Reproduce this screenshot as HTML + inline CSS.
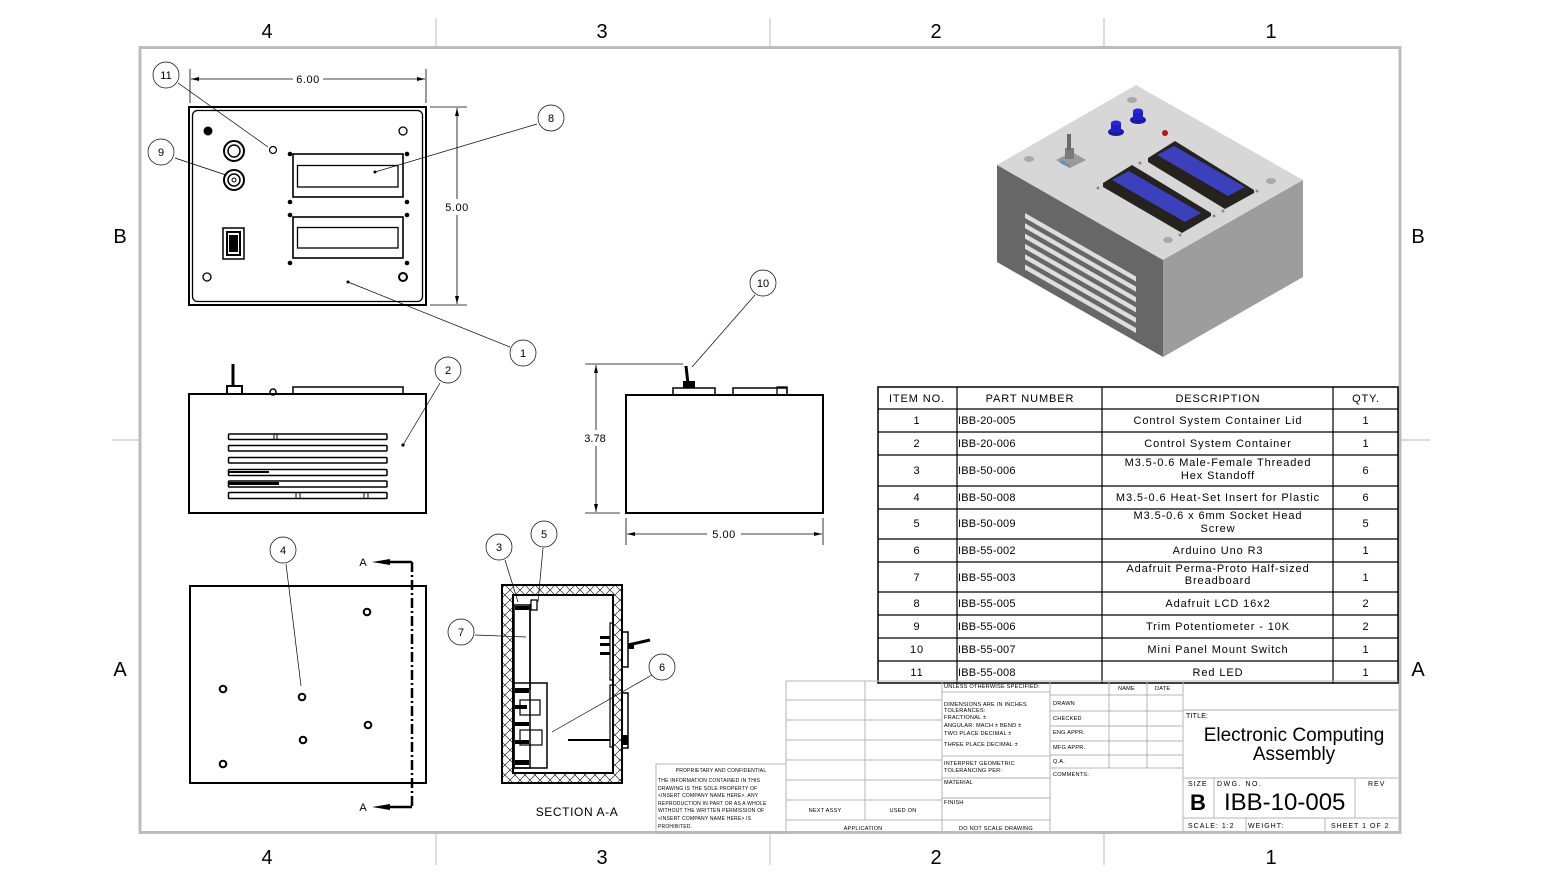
<!DOCTYPE html>
<html><head><meta charset="utf-8"><style>
html,body{margin:0;padding:0;background:#fff;width:1541px;height:883px;overflow:hidden}
svg{display:block}
text{font-family:"Liberation Sans",sans-serif;fill:#000}
.bom{font-size:11px;letter-spacing:0.9px}
.tb{font-size:5.6px;letter-spacing:0.2px}
.bl{font-size:11px}
</style></head><body>
<svg width="1541" height="883" viewBox="0 0 1541 883" xmlns="http://www.w3.org/2000/svg">
<defs>
<pattern id="hatch" width="10" height="10" patternUnits="userSpaceOnUse">
<path d="M0,0 L10,10 M10,0 L0,10" stroke="#000" stroke-width="0.6"/>
</pattern>
</defs>
<rect width="1541" height="883" fill="#fff"/>

<!-- frame -->
<rect x="140" y="47.5" width="1260" height="785" fill="none" stroke="#bcbcbc" stroke-width="3"/>
<g stroke="#c8c8c8" stroke-width="1.2">
<line x1="436" y1="18" x2="436" y2="46"/><line x1="770" y1="18" x2="770" y2="46"/><line x1="1104" y1="18" x2="1104" y2="46"/>
<line x1="436" y1="834" x2="436" y2="865"/><line x1="770" y1="834" x2="770" y2="865"/><line x1="1104" y1="834" x2="1104" y2="865"/>
<line x1="112" y1="440" x2="139" y2="440"/><line x1="1401" y1="440" x2="1430" y2="440"/>
</g>
<g font-size="20" text-anchor="middle">
<text x="267" y="38">4</text><text x="602" y="38">3</text><text x="936" y="38">2</text><text x="1271" y="38">1</text>
<text x="267" y="864">4</text><text x="602" y="864">3</text><text x="936" y="864">2</text><text x="1271" y="864">1</text>
<text x="120" y="243">B</text><text x="1418" y="243">B</text>
<text x="120" y="676">A</text><text x="1418" y="676">A</text>
</g>

<!-- TOP VIEW -->
<g fill="none" stroke="#000">
<rect x="189" y="107" width="237" height="198" stroke-width="2"/>
<rect x="192.5" y="110.5" width="230" height="191" rx="5" stroke-width="1.3"/>
<line x1="190" y1="69" x2="190" y2="103" stroke-width="0.8"/>
<line x1="426" y1="69" x2="426" y2="103" stroke-width="0.8"/>
<line x1="191" y1="79" x2="293" y2="79" stroke-width="0.8"/>
<line x1="323" y1="79" x2="425" y2="79" stroke-width="0.8"/>
<line x1="430" y1="107" x2="467" y2="107" stroke-width="0.8"/>
<line x1="430" y1="305" x2="467" y2="305" stroke-width="0.8"/>
<line x1="457" y1="108" x2="457" y2="199" stroke-width="0.8"/>
<line x1="457" y1="215" x2="457" y2="304" stroke-width="0.8"/>
<circle cx="208" cy="131" r="3.5" stroke-width="2"/>
<circle cx="403" cy="131" r="4" stroke-width="1.3"/>
<circle cx="207" cy="277" r="4" stroke-width="1.3"/>
<circle cx="403" cy="277" r="4" stroke-width="2"/>
<circle cx="234" cy="151" r="10" stroke-width="2"/><circle cx="234" cy="151" r="6" stroke-width="1.5"/>
<circle cx="234" cy="180" r="10" stroke-width="2"/><circle cx="234" cy="180" r="6" stroke-width="1.5"/><circle cx="234" cy="180" r="2" stroke-width="1"/>
<circle cx="273" cy="150" r="3.5" stroke-width="1.2"/>
<rect x="223" y="228" width="21" height="31" stroke-width="1.5"/>
<rect x="227" y="232" width="13" height="23" stroke-width="2"/>
<rect x="293" y="154" width="110" height="43" stroke-width="1.6"/>
<rect x="297.5" y="165.5" width="100.5" height="21.5" stroke-width="1.3"/>
<rect x="293" y="217" width="110" height="41" stroke-width="1.6"/>
<rect x="297.5" y="227.5" width="100.5" height="20.5" stroke-width="1.3"/>
</g>
<g fill="#000">
<polygon points="191,79 199,77 199,81"/><polygon points="425,79 417,77 417,81"/>
<polygon points="457,108 455,116 459,116"/><polygon points="457,304 455,296 459,296"/>
<circle cx="208" cy="131" r="3"/>
<rect x="229" y="235" width="9" height="17"/>
<circle cx="290" cy="154" r="2.3"/><circle cx="407" cy="154" r="2.3"/>
<circle cx="290" cy="202" r="2.3"/><circle cx="407" cy="202" r="2.3"/>
<circle cx="290" cy="215" r="2.3"/><circle cx="407" cy="215" r="2.3"/>
<circle cx="290" cy="263" r="2.3"/><circle cx="407" cy="263" r="2.3"/>
<circle cx="375" cy="172" r="1.5"/><circle cx="348" cy="282" r="1.5"/>
</g>
<text x="308" y="83" font-size="11" text-anchor="middle" letter-spacing="0.5">6.00</text>
<text x="457" y="211" font-size="11" text-anchor="middle" letter-spacing="0.5">5.00</text>
<g stroke="#000" stroke-width="0.7" fill="none">
<line x1="178" y1="83" x2="268" y2="147"/>
<line x1="537" y1="124" x2="375" y2="172"/>
<line x1="175" y1="158" x2="226" y2="175"/>
<line x1="510" y1="347" x2="348" y2="282"/>
<circle cx="166" cy="75" r="13" fill="#fff"/>
<circle cx="551" cy="118" r="13" fill="#fff"/>
<circle cx="161" cy="152" r="13" fill="#fff"/>
<circle cx="523" cy="353" r="13" fill="#fff"/>
</g>
<g class="bl" text-anchor="middle">
<text x="166" y="79">11</text><text x="551" y="122">8</text><text x="161" y="156">9</text><text x="523" y="357">1</text>
</g>

<!-- SIDE VIEW -->
<g fill="none" stroke="#000">
<rect x="189" y="394" width="237" height="119" stroke-width="2"/>
<rect x="293" y="387" width="110" height="7" stroke-width="1.5"/>
<rect x="227" y="386" width="15" height="8" stroke-width="2"/>
<line x1="233" y1="364" x2="233" y2="386" stroke-width="3"/>
<circle cx="273" cy="392" r="3" stroke-width="1.5"/>
<rect x="228.5" y="434" width="158.5" height="5.5" rx="1" stroke-width="1.5"/>
<rect x="228.5" y="445.5" width="158.5" height="5.5" rx="1" stroke-width="1.5"/>
<rect x="228.5" y="457.5" width="158.5" height="5.5" rx="1" stroke-width="1.5"/>
<rect x="228.5" y="469.5" width="158.5" height="6" rx="1" stroke-width="1.5"/>
<rect x="228.5" y="481" width="158.5" height="6" rx="1" stroke-width="1.5"/>
<rect x="228.5" y="492.5" width="158.5" height="6" rx="1" stroke-width="1.5"/>
<line x1="274" y1="434" x2="274" y2="440" stroke-width="1"/><line x1="277" y1="434" x2="277" y2="440" stroke-width="1"/>
<line x1="296" y1="492" x2="296" y2="499" stroke-width="1"/><line x1="300" y1="492" x2="300" y2="499" stroke-width="1"/>
<line x1="364" y1="492" x2="364" y2="499" stroke-width="1"/><line x1="368" y1="492" x2="368" y2="499" stroke-width="1"/>
</g>
<rect x="229" y="482" width="50" height="3" fill="#000"/>
<rect x="229" y="471" width="40" height="2" fill="#000"/>
<g stroke="#000" stroke-width="0.7" fill="none">
<line x1="440" y1="383" x2="403" y2="445"/>
<circle cx="448" cy="370" r="13" fill="#fff"/>
</g>
<circle cx="403" cy="445" r="1.6"/>
<text x="448" y="374" class="bl" text-anchor="middle">2</text>

<!-- BOTTOM VIEW -->
<g fill="none" stroke="#000">
<rect x="190" y="586" width="236" height="197" stroke-width="2"/>
<circle cx="367" cy="612" r="3.3" stroke-width="2"/>
<circle cx="223" cy="689" r="3.3" stroke-width="2"/>
<circle cx="302" cy="697" r="3.3" stroke-width="2"/>
<circle cx="368" cy="725" r="3.3" stroke-width="2"/>
<circle cx="303" cy="740" r="3.3" stroke-width="2"/>
<circle cx="223" cy="764" r="3.3" stroke-width="2"/>
<line x1="412" y1="562" x2="412" y2="807" stroke-width="2.5" stroke-dasharray="10,3,2,3"/>
<polyline points="386,562 412,562" stroke-width="2.5"/>
<polyline points="386,807 412,807" stroke-width="2.5"/>
<line x1="286" y1="564" x2="301" y2="686" stroke-width="0.7"/>
<circle cx="283" cy="550" r="13" fill="#fff" stroke-width="0.7"/>
</g>
<polygon points="372,562 390,559 390,565" fill="#000"/>
<polygon points="372,807 390,804 390,810" fill="#000"/>
<text x="363" y="566" font-size="11" text-anchor="middle">A</text>
<text x="363" y="811" font-size="11" text-anchor="middle">A</text>
<text x="283" y="554" class="bl" text-anchor="middle">4</text>

<!-- FRONT VIEW -->
<g fill="none" stroke="#000">
<rect x="626" y="395" width="197" height="118" stroke-width="2"/>
<rect x="673" y="388" width="42" height="7" stroke-width="1.5"/>
<rect x="733" y="388" width="54" height="7" stroke-width="1.5"/>
<rect x="777" y="387" width="10" height="8" stroke-width="1.3"/>
<line x1="686" y1="366" x2="688" y2="384" stroke-width="3"/>
<line x1="585" y1="364" x2="683" y2="364" stroke-width="0.8"/>
<line x1="585" y1="513" x2="620" y2="513" stroke-width="0.8"/>
<line x1="596" y1="365" x2="596" y2="430" stroke-width="0.8"/>
<line x1="596" y1="446" x2="596" y2="512" stroke-width="0.8"/>
<line x1="626" y1="518" x2="626" y2="545" stroke-width="0.8"/>
<line x1="823" y1="518" x2="823" y2="545" stroke-width="0.8"/>
<line x1="627" y1="534" x2="707" y2="534" stroke-width="0.8"/>
<line x1="741" y1="534" x2="822" y2="534" stroke-width="0.8"/>
<line x1="755" y1="295" x2="692" y2="367" stroke-width="0.7"/>
<circle cx="763" cy="283" r="13" fill="#fff" stroke-width="0.7"/>
</g>
<rect x="683" y="381" width="12" height="7" fill="#000"/>
<g fill="#000">
<polygon points="596,365 594,373 598,373"/><polygon points="596,512 594,504 598,504"/>
<polygon points="627,534 635,532 635,536"/><polygon points="822,534 814,532 814,536"/>
</g>
<text x="595" y="442" font-size="11" text-anchor="middle">3.78</text>
<text x="724" y="538" font-size="11" text-anchor="middle" letter-spacing="0.5">5.00</text>
<text x="763" y="287" class="bl" text-anchor="middle">10</text>

<!-- SECTION A-A -->
<path d="M502,585 H622 V783 H502 Z M513,595 V773 H613 V595 Z" fill="url(#hatch)" fill-rule="evenodd" stroke="#000" stroke-width="2"/>
<g fill="none" stroke="#000">
<rect x="514" y="605" width="16" height="163" stroke-width="1.5"/>
<line x1="530" y1="604" x2="530" y2="690" stroke-width="1.5"/>
<rect x="531" y="600" width="6" height="10" stroke-width="1.3"/>
<rect x="514" y="683" width="33" height="85" stroke-width="1.5"/>
<rect x="520" y="700" width="20" height="15" stroke-width="1.2"/>
<rect x="520" y="730" width="22" height="15" stroke-width="1.2"/>
<rect x="610" y="623" width="3" height="57" stroke-width="1.2"/>
<rect x="610" y="685" width="3" height="62" stroke-width="1.2"/>
<rect x="622" y="632" width="6" height="35" stroke-width="1.5"/>
<rect x="622" y="693" width="6" height="55" stroke-width="1.5"/>
<line x1="628" y1="645" x2="650" y2="640" stroke-width="3"/>
<line x1="568" y1="740" x2="610" y2="740" stroke-width="2"/>
</g>
<g fill="#000">
<rect x="515" y="606" width="14" height="4"/>
<rect x="515" y="688" width="14" height="5"/><rect x="515" y="705" width="12" height="4"/>
<rect x="515" y="722" width="14" height="4"/><rect x="515" y="740" width="14" height="4"/><rect x="515" y="760" width="14" height="5"/>
<rect x="600" y="636" width="10" height="3"/><rect x="600" y="643" width="10" height="3"/><rect x="600" y="652" width="10" height="3"/>
<rect x="628" y="645" width="6" height="4"/>
<rect x="623" y="735" width="5" height="10"/>
</g>
<g stroke="#000" stroke-width="0.7" fill="none">
<line x1="505" y1="560" x2="518" y2="602"/>
<line x1="543" y1="548" x2="538" y2="602"/>
<line x1="475" y1="635" x2="526" y2="637"/>
<line x1="652" y1="675" x2="552" y2="732"/>
<circle cx="499" cy="547" r="13" fill="#fff"/>
<circle cx="544" cy="534" r="13" fill="#fff"/>
<circle cx="461" cy="632" r="13" fill="#fff"/>
<circle cx="662" cy="667" r="13" fill="#fff"/>
</g>
<g class="bl" text-anchor="middle">
<text x="499" y="551">3</text><text x="544" y="538">5</text><text x="461" y="636">7</text><text x="662" y="671">6</text>
</g>
<text x="577" y="816" font-size="12" text-anchor="middle" letter-spacing="0.6">SECTION A-A</text>

<!-- ISOMETRIC -->
<polygon points="1136,85 1303,180 1163,260 997,165" fill="#d7d7d7"/>
<polygon points="997,165 1163,260 1163,357 997,262" fill="#676767"/>
<polygon points="1163,260 1303,180 1303,277 1163,357" fill="#9d9d9d"/>
<g fill="#dedede">
<polygon points="1025,213 1136,276.5 1136,281.5 1025,218"/>
<polygon points="1025,223.3 1136,286.8 1136,291.8 1025,228.3"/>
<polygon points="1025,233.6 1136,297.1 1136,302.1 1025,238.6"/>
<polygon points="1025,243.9 1136,307.4 1136,312.4 1025,248.9"/>
<polygon points="1025,254.2 1136,317.7 1136,322.7 1025,259.2"/>
<polygon points="1025,264.5 1136,328 1136,333 1025,269.5"/>
</g>
<g fill="#a9a9a9">
<ellipse cx="1132" cy="100" rx="5" ry="3"/><ellipse cx="1029" cy="159" rx="5" ry="3"/>
<ellipse cx="1271" cy="181" rx="5" ry="3"/><ellipse cx="1168" cy="240" rx="5" ry="3"/>
</g>
<g fill="#8a8a8a">
<circle cx="1140" cy="163" r="1.5"/><circle cx="1098" cy="188" r="1.5"/><circle cx="1257" cy="191" r="1.5"/>
<circle cx="1214" cy="216" r="1.5"/><circle cx="1223" cy="211" r="1.5"/><circle cx="1180" cy="235" r="1.5"/>
</g>
<polygon points="1148,158 1175,141 1254,190 1254,193 1225,209 1148,162" fill="#26231f"/>
<polygon points="1157,155 1174,146 1245,187 1228,196" fill="#3b40bd"/>
<polygon points="1103,183 1132,165 1211,213 1211,216 1182,233 1103,187" fill="#26231f"/>
<polygon points="1112,180 1129,171 1201,213 1185,222" fill="#3b40bd"/>
<ellipse cx="1116" cy="132" rx="8" ry="4" fill="#1a1aa0"/>
<rect x="1111" y="123" width="10" height="9" fill="#1e1ec8"/>
<ellipse cx="1116" cy="123" rx="5" ry="2.5" fill="#2828d8"/>
<ellipse cx="1138" cy="120" rx="8" ry="4" fill="#1a1aa0"/>
<rect x="1133" y="111" width="10" height="9" fill="#1e1ec8"/>
<ellipse cx="1138" cy="111" rx="5" ry="2.5" fill="#2828d8"/>
<circle cx="1165" cy="133" r="3" fill="#c01010"/>
<polygon points="1056,160 1072,152 1086,160 1070,168" fill="#9a9a9a"/>
<polygon points="1060,163 1070,168 1070,165 1062,160" fill="#6f8fb0"/>
<rect x="1065" y="148" width="9" height="11" fill="#7a7a7a"/>
<rect x="1067" y="134" width="4" height="16" fill="#6a6a6a"/>

<!-- BOM TABLE -->
<g stroke="#000" fill="none">
<rect x="878" y="387" width="520" height="296" stroke-width="1.5"/>
<line x1="957" y1="387" x2="957" y2="683" stroke-width="1.2"/>
<line x1="1102" y1="387" x2="1102" y2="683" stroke-width="1.2"/>
<line x1="1333" y1="387" x2="1333" y2="683" stroke-width="1.2"/>
<g stroke-width="1.2">
<line x1="878" y1="409" x2="1398" y2="409"/>
<line x1="878" y1="432" x2="1398" y2="432"/>
<line x1="878" y1="455" x2="1398" y2="455"/>
<line x1="878" y1="486" x2="1398" y2="486"/>
<line x1="878" y1="509" x2="1398" y2="509"/>
<line x1="878" y1="539" x2="1398" y2="539"/>
<line x1="878" y1="562" x2="1398" y2="562"/>
<line x1="878" y1="592" x2="1398" y2="592"/>
<line x1="878" y1="615" x2="1398" y2="615"/>
<line x1="878" y1="638" x2="1398" y2="638"/>
<line x1="878" y1="661" x2="1398" y2="661"/>
</g>
</g>
<g class="bom" text-anchor="middle">
<text x="917" y="402">ITEM NO.</text><text x="1030" y="402">PART NUMBER</text><text x="1218" y="402">DESCRIPTION</text><text x="1366" y="402">QTY.</text>
<text x="917" y="424">1</text><text x="1218" y="424">Control System Container Lid</text><text x="1366" y="424">1</text>
<text x="917" y="447">2</text><text x="1218" y="447">Control System Container</text><text x="1366" y="447">1</text>
<text x="917" y="474">3</text><text x="1218" y="466">M3.5-0.6 Male-Female Threaded</text><text x="1218" y="479">Hex Standoff</text><text x="1366" y="474">6</text>
<text x="917" y="501">4</text><text x="1218" y="501">M3.5-0.6 Heat-Set Insert for Plastic</text><text x="1366" y="501">6</text>
<text x="917" y="527">5</text><text x="1218" y="519">M3.5-0.6 x 6mm  Socket Head</text><text x="1218" y="532">Screw</text><text x="1366" y="527">5</text>
<text x="917" y="554">6</text><text x="1218" y="554">Arduino Uno R3</text><text x="1366" y="554">1</text>
<text x="917" y="581">7</text><text x="1218" y="572">Adafruit Perma-Proto Half-sized</text><text x="1218" y="584">Breadboard</text><text x="1366" y="581">1</text>
<text x="917" y="607">8</text><text x="1218" y="607">Adafruit LCD 16x2</text><text x="1366" y="607">2</text>
<text x="917" y="630">9</text><text x="1218" y="630">Trim Potentiometer - 10K</text><text x="1366" y="630">2</text>
<text x="917" y="653">10</text><text x="1218" y="653">Mini Panel Mount Switch</text><text x="1366" y="653">1</text>
<text x="917" y="676">11</text><text x="1218" y="676">Red LED</text><text x="1366" y="676">1</text>
</g>
<g class="bom" style="letter-spacing:0.2px">
<text x="958" y="424">IBB-20-005</text><text x="958" y="447">IBB-20-006</text><text x="958" y="474">IBB-50-006</text>
<text x="958" y="501">IBB-50-008</text><text x="958" y="527">IBB-50-009</text><text x="958" y="554">IBB-55-002</text>
<text x="958" y="581">IBB-55-003</text><text x="958" y="607">IBB-55-005</text><text x="958" y="630">IBB-55-006</text>
<text x="958" y="653">IBB-55-007</text><text x="958" y="676">IBB-55-008</text>
</g>

<!-- TITLE BLOCK -->
<g stroke="#b5b5b5" stroke-width="1" fill="none">
<line x1="786" y1="681" x2="1398" y2="681"/>
<line x1="786" y1="681" x2="786" y2="832"/>
<line x1="865" y1="681" x2="865" y2="820"/>
<line x1="942" y1="681" x2="942" y2="832"/>
<line x1="1050" y1="681" x2="1050" y2="832"/>
<line x1="1109" y1="681" x2="1109" y2="768"/>
<line x1="1147" y1="681" x2="1147" y2="768"/>
<line x1="1183" y1="681" x2="1183" y2="832"/>
<line x1="786" y1="700" x2="942" y2="700"/>
<line x1="786" y1="720" x2="942" y2="720"/>
<line x1="786" y1="740" x2="942" y2="740"/>
<line x1="786" y1="760" x2="942" y2="760"/>
<line x1="786" y1="780" x2="942" y2="780"/>
<line x1="786" y1="800" x2="942" y2="800"/>
<line x1="786" y1="820" x2="1050" y2="820"/>
<line x1="942" y1="692" x2="1050" y2="692"/>
<line x1="942" y1="756" x2="1050" y2="756"/>
<line x1="942" y1="778" x2="1050" y2="778"/>
<line x1="942" y1="798" x2="1050" y2="798"/>
<line x1="1050" y1="695" x2="1183" y2="695"/>
<line x1="1050" y1="711" x2="1183" y2="711"/>
<line x1="1050" y1="726" x2="1183" y2="726"/>
<line x1="1050" y1="741" x2="1183" y2="741"/>
<line x1="1050" y1="755" x2="1183" y2="755"/>
<line x1="1050" y1="768" x2="1183" y2="768"/>
<line x1="1183" y1="710" x2="1398" y2="710"/>
<line x1="1183" y1="778" x2="1398" y2="778"/>
<line x1="1183" y1="818" x2="1398" y2="818"/>
<line x1="1214" y1="778" x2="1214" y2="818"/>
<line x1="1355" y1="778" x2="1355" y2="818"/>
<line x1="1246" y1="818" x2="1246" y2="832"/>
<line x1="1325" y1="818" x2="1325" y2="832"/>
<rect x="656" y="764" width="130" height="68"/>
</g>
<g class="tb">
<text x="944" y="688">UNLESS OTHERWISE SPECIFIED:</text>
<text x="944" y="706">DIMENSIONS ARE IN INCHES</text>
<text x="944" y="712">TOLERANCES:</text>
<text x="944" y="719">FRACTIONAL ±</text>
<text x="944" y="727">ANGULAR: MACH ±    BEND ±</text>
<text x="944" y="735">TWO PLACE DECIMAL    ±</text>
<text x="944" y="746">THREE PLACE DECIMAL  ±</text>
<text x="944" y="765">INTERPRET GEOMETRIC</text>
<text x="944" y="772">TOLERANCING PER:</text>
<text x="944" y="784">MATERIAL</text>
<text x="944" y="804">FINISH</text>
<text x="1118" y="690">NAME</text><text x="1155" y="690">DATE</text>
<text x="1053" y="705">DRAWN</text><text x="1053" y="720">CHECKED</text><text x="1053" y="734">ENG APPR.</text>
<text x="1053" y="749">MFG APPR.</text><text x="1053" y="763">Q.A.</text><text x="1053" y="776">COMMENTS:</text>
<text x="825" y="812" text-anchor="middle">NEXT ASSY</text>
<text x="903" y="812" text-anchor="middle">USED ON</text>
<text x="863" y="830" text-anchor="middle">APPLICATION</text>
<text x="996" y="830" text-anchor="middle">DO NOT SCALE DRAWING</text>
<text x="721" y="772" text-anchor="middle" style="font-size:5px">PROPRIETARY AND CONFIDENTIAL</text>
<text x="658" y="782" style="font-size:5px">THE INFORMATION CONTAINED IN THIS</text>
<text x="658" y="790" style="font-size:5px">DRAWING IS THE SOLE PROPERTY OF</text>
<text x="658" y="797" style="font-size:5px">&lt;INSERT COMPANY NAME HERE&gt;. ANY</text>
<text x="658" y="805" style="font-size:5px">REPRODUCTION IN PART OR AS A WHOLE</text>
<text x="658" y="812" style="font-size:5px">WITHOUT THE WRITTEN PERMISSION OF</text>
<text x="658" y="820" style="font-size:5px">&lt;INSERT COMPANY NAME HERE&gt; IS</text>
<text x="658" y="828" style="font-size:5px">PROHIBITED.</text>
<text x="1186" y="718" style="font-size:7px">TITLE:</text>
<text x="1188" y="786" style="font-size:7px;letter-spacing:1px">SIZE</text>
<text x="1217" y="786" style="font-size:7px;letter-spacing:1.5px">DWG.  NO.</text>
<text x="1368" y="786" style="font-size:7px;letter-spacing:1px">REV</text>
<text x="1188" y="828" style="font-size:7px;letter-spacing:1px">SCALE: 1:2</text>
<text x="1248" y="828" style="font-size:7px;letter-spacing:1px">WEIGHT:</text>
<text x="1331" y="828" style="font-size:7px;letter-spacing:1px">SHEET 1 OF 2</text>
</g>
<text x="1294" y="741" font-size="19" text-anchor="middle">Electronic Computing</text>
<text x="1294" y="760" font-size="19" text-anchor="middle">Assembly</text>
<text x="1190" y="810" font-size="22" font-weight="bold">B</text>
<text x="1224" y="810" font-size="24">IBB-10-005</text>
</svg>
</body></html>
